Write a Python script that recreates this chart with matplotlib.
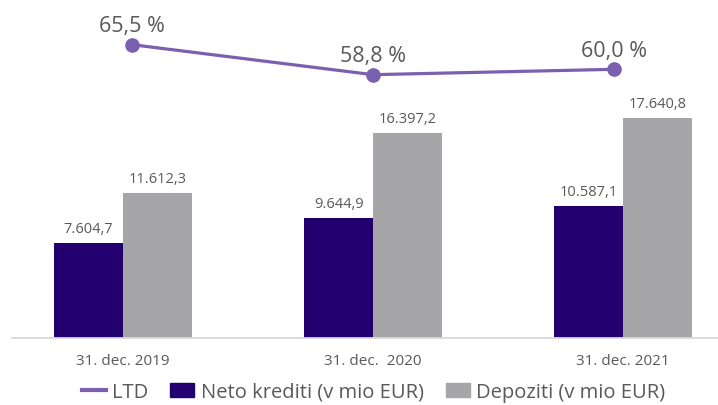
import matplotlib.pyplot as plt
from matplotlib.lines import Line2D
from matplotlib.patches import Patch

categories = ["31. dec. 2019", "31. dec.  2020", "31. dec. 2021"]
neto_krediti = [7604.7, 9644.9, 10587.1]
depoziti = [11612.3, 16397.2, 17640.8]
ltd = [65.5, 58.8, 60.0]

NAVY = "#22006f"
GREY = "#a6a6a8"
PURPLE = "#7b5fb0"
TEXT = "#595959"

plt.rcParams["font.family"] = ["Open Sans", "DejaVu Sans"]


def fmt_num(v):
    s = f"{v:,.1f}"
    return s.replace(",", "X").replace(".", ",").replace("X", ".")


fig = plt.figure(figsize=(7.18, 4.06), dpi=100)
pos = [12 / 718, 67 / 406, 706 / 718, 339 / 406]
ax = fig.add_axes(pos)

x = list(range(len(categories)))
w = 0.275
b1 = ax.bar([i - w / 2 for i in x], neto_krediti, width=w, color=NAVY)
b2 = ax.bar([i + w / 2 for i in x], depoziti, width=w, color=GREY)
for bars, vals in ((b1, neto_krediti), (b2, depoziti)):
    for r, v in zip(bars, vals):
        ax.annotate(fmt_num(v), (r.get_x() + r.get_width() / 2, v),
                    xytext=(0, 5), textcoords="offset points",
                    ha="center", va="bottom", fontsize=10.5, color=TEXT)

ax.set_xlim(-0.444, 2.38)
ax.set_ylim(0, 27150)
ax.set_yticks([])
ax.set_xticks(x)
ax.set_xticklabels(categories, fontsize=11, color=TEXT)
ax.tick_params(axis="x", length=0, pad=11)
for s in ("top", "right", "left"):
    ax.spines[s].set_visible(False)
ax.spines["bottom"].set_color("#d9d9d9")
ax.spines["bottom"].set_linewidth(1.3)

# LTD line on its own (secondary) scales
ax2 = fig.add_axes(pos, frameon=False)
ax2.plot(x, ltd, color=PURPLE, lw=2.3, marker="o", markersize=9.5)
for i, v in zip(x, ltd):
    ax2.annotate(f"{v:.1f} %".replace(".", ","), (i, v), xytext=(0, 6),
                 textcoords="offset points", ha="center", va="bottom",
                 fontsize=15.5, color=TEXT)
ax2.set_xlim(-0.498, 2.432)
ax2.set_ylim(0, 75.7)
ax2.axis("off")

handles = [
    Line2D([0], [0], color=PURPLE, lw=3),
    Patch(color=NAVY),
    Patch(color=GREY),
]
labels = ["LTD", "Neto krediti (v mio EUR)", "Depoziti (v mio EUR)"]
fig.legend(handles, labels, loc="center", bbox_to_anchor=(0.52, 13 / 406),
           ncol=3, frameon=False, fontsize=14.5, labelcolor=TEXT,
           handlelength=1.2, handleheight=0.65, handletextpad=0.3, columnspacing=1.1)

fig.savefig("out.png", dpi=100)
